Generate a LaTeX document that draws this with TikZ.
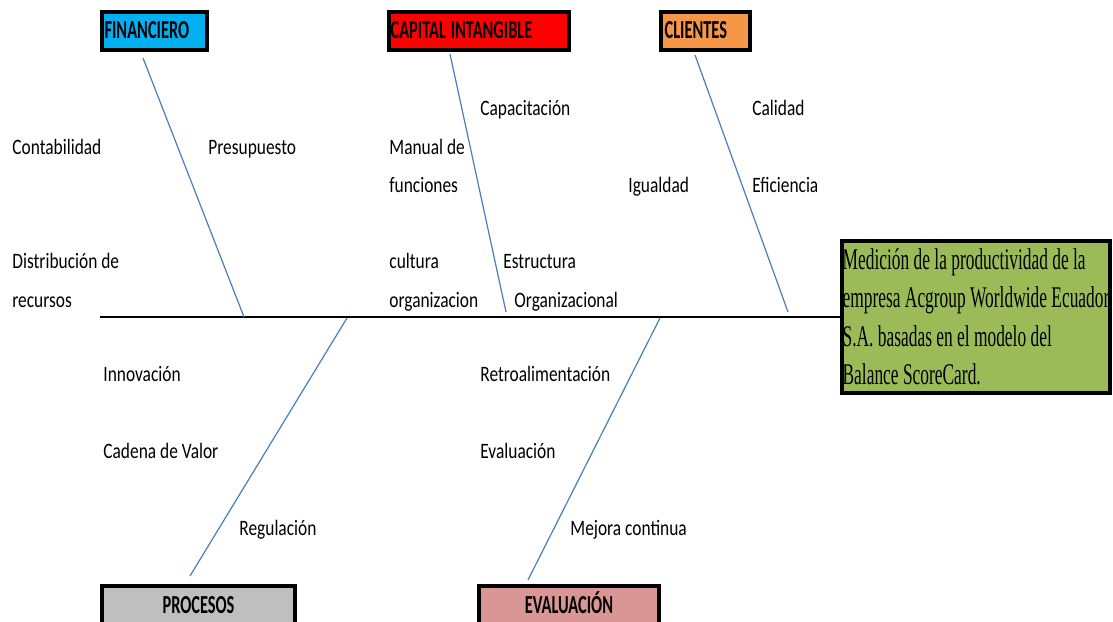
\documentclass[tikz,border=0pt]{standalone}
\usepackage{fontspec}
\setmainfont{Carlito}[FakeStretch=0.79]
\newfontfamily\boxfont{Carlito}[FakeStretch=0.63]
\newfontfamily\effectfont{Liberation Serif}[FakeStretch=0.58]

\definecolor{finblue}{HTML}{00B0F0}
\definecolor{capred}{HTML}{FF0000}
\definecolor{clientorange}{HTML}{F79646}
\definecolor{effectgreen}{HTML}{9BBB59}
\definecolor{procgray}{HTML}{BFBFBF}
\definecolor{evalpink}{HTML}{DA9694}
\definecolor{boneblue}{HTML}{4A7EBB}

\tikzset{
  catbox/.style={draw=black, line width=2pt, anchor=north west,
    font=\boxfont\bfseries\fontsize{13pt}{15pt}\selectfont,
    inner xsep=1.3pt, inner ysep=0pt, align=left},
  topbox/.style={catbox, text height=13pt, text depth=6pt},
  bottombox/.style={catbox, align=center, text height=13.5pt, text depth=20pt},
  label/.style={anchor=base west, inner sep=0pt,
    font=\fontsize{11pt}{13pt}\selectfont},
  bone/.style={draw=boneblue, line width=0.6pt},
  spine/.style={draw=black, line width=1pt}
}

\begin{document}
\begin{tikzpicture}[x=0.5pt, y=-0.5pt]
  \useasboundingbox (0,0) rectangle (1113,621);
  \fill[white] (0,0) rectangle (1113,621);
  \clip (0,0) rectangle (1113,621);

  % category boxes along the top
  \node[topbox, fill=finblue, text width=49.9pt] (fin) at (100,10) {FINANCIERO};
  \node[topbox, fill=capred, inner xsep=0.8pt, text width=88.4pt] (cap) at (387,10)
    {\spaceskip=2.4pt\relax CAPITAL INTANGIBLE};
  \node[topbox, fill=clientorange, inner xsep=1.8pt, text width=40.9pt] (cli) at (659,10) {CLIENTES};

  % category boxes along the bottom (cut by the page edge)
  \node[bottombox, fill=procgray, text width=93.9pt] (proc) at (100,584) {PROCESOS};
  \node[bottombox, fill=evalpink, text width=87.4pt] (eval) at (477,584) {EVALUACIÓN};

  % effect box at the head of the fish
  \node[draw=black, line width=2pt, fill=effectgreen, anchor=north west,
        minimum width=134pt, minimum height=76pt, inner sep=0pt, align=left,
        font=\effectfont\fontsize{15pt}{19.25pt}\selectfont] (effect) at (840,239)
    {Medición de la productividad de la\\
     empresa Acgroup Worldwide Ecuador\\
     S.A. basadas en el modelo del\\
     Balance ScoreCard.};

  % spine
  \coordinate (tail) at (100,317);
  \draw[spine] (tail) -- (tail -| effect.west);

  % bone end points
  \coordinate (finTop) at (143,58);
  \coordinate (finEnd) at (244,317);
  \coordinate (capTop) at (450,54);
  \coordinate (capEnd) at (506,312);
  \coordinate (cliTop) at (695,55);
  \coordinate (cliEnd) at (788,312);
  \coordinate (procTop) at (347,318);
  \coordinate (procEnd) at (190,576);
  \coordinate (evalTop) at (660,318);
  \coordinate (evalEnd) at (528,580);

  \draw[bone] (finTop) -- (finEnd);
  \draw[bone] (capTop) -- (capEnd);
  \draw[bone] (cliTop) -- (cliEnd);
  \draw[bone] (procTop) -- (procEnd);
  \draw[bone] (evalTop) -- (evalEnd);

  % causes: financiero
  \node[label] (contab) at (12,154) {Contabilidad};
  \node[label] (presup) at (208,154) {Presupuesto};
  \node[label] (distrib) at (12,268) {Distribución de};
  \node[label] (recursos) at (12,307) {recursos};

  % causes: capital intangible
  \node[label] (capacit) at (480,115) {Capacitación};
  \node[label] (manual) at (389,154) {Manual de};
  \node[label] (funciones) at (389,192) {funciones};
  \node[label] (cultura) at (389,268) {cultura};
  \node[label] (organiz) at (389,307) {organizacion};
  \node[label] (estruct) at (503,268) {Estructura};
  \node[label] (organizacional) at (514,307) {Organizacional};

  % causes: clientes
  \node[label] (calidad) at (752,115) {Calidad};
  \node[label] (igualdad) at (628,192) {Igualdad};
  \node[label] (eficiencia) at (752,192) {Eficiencia};

  % causes: procesos
  \node[label] (innov) at (103,381) {Innovación};
  \node[label] (cadena) at (103,458) {Cadena de Valor};
  \node[label] (regul) at (239,535) {Regulación};

  % causes: evaluacion
  \node[label] (retro) at (480,381) {Retroalimentación};
  \node[label] (evaluac) at (480,458) {Evaluación};
  \node[label] (mejora) at (570,535) {Mejora continua};
\end{tikzpicture}
\end{document}
